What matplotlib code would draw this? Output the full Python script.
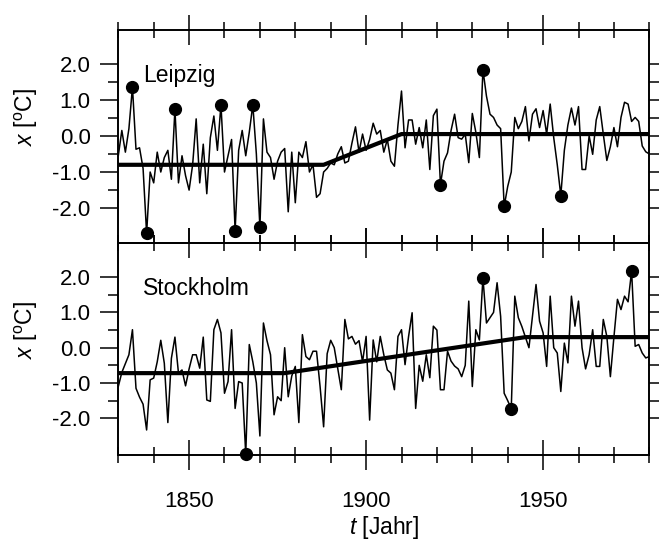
import matplotlib.pyplot as plt
import numpy as np
from matplotlib.ticker import FixedLocator, MultipleLocator

plt.rcParams['font.family'] = ['Liberation Sans', 'DejaVu Sans']
plt.rcParams['mathtext.fontset'] = 'custom'
plt.rcParams['mathtext.rm'] = 'Liberation Sans'
plt.rcParams['mathtext.it'] = 'Liberation Sans:italic'

years = np.arange(1830, 1981)

# annual temperature anomalies
leipzig = [
    -0.55, 0.15, -0.45, 0.2, 1.35, -0.37, -0.33, -0.9, -2.70, -1.0,
    -1.3, -0.45, -1.0, -0.6, -0.4, -1.2, 0.74, -1.3, -0.55, -1.1,
    -1.5, -0.8, 0.47, -1.3, -0.23, -1.6, -0.05, 0.55, -0.4, 0.86,
    -1.0, -0.55, -0.1, -2.63, -0.4, 0.15, -0.55, 0.1, 0.86, -0.5,
    -2.53, 0.47, -0.45, -0.6, -1.2, -0.7, -0.45, -0.35, -2.1, -0.45,
    -1.85, -0.45, -0.6, -0.16, -1.0, -0.8, -1.7, -1.6, -1.0, -0.9,
    -0.75, -0.8, -0.5, -0.3, -0.75, -0.7, -0.2, 0.25, -0.45, 0.05,
    -0.4, -0.1, 0.35, 0.05, 0.15, -0.45, -0.1, -0.7, -0.84, 0.3,
    1.24, -0.33, 0.44, 0.44, -0.23, 0.23, -0.33, 0.44, -0.93, 0.56,
    0.74, -1.35, -0.7, -0.47, 0.15, 0.6, -0.05, -0.09, 0.05, -0.74,
    0.62, 0.1, -0.6, 1.83, 1.1, 0.6, 0.51, 0.3, 0.2, -1.95,
    -1.4, -1.0, 0.51, 0.2, 0.4, 0.81, -0.14, 0.6, 0.75, 0.23,
    0.7, 0.05, 0.88, -0.05, -0.8, -1.65, -0.4, 0.3, 0.77, 0.3,
    0.81, -0.93, -0.93, 0.0, -0.51, 0.44, 0.81, 0.05, -0.68, -0.3,
    0.23, -0.3, 0.51, 0.93, 0.88, 0.4, 0.51, 0.4, -0.28, -0.44,
    -0.5,
]
stockholm = [
    -1.1, -0.7, -0.45, -0.2, 0.51, -1.15, -1.4, -1.6, -2.33, -0.91,
    -0.86, -0.4, 0.21, -0.44, -2.12, -0.3, 0.3, -0.72, -0.63, -1.08,
    -0.6, -0.2, -0.2, -0.58, 0.3, -1.48, -1.52, 0.51, 0.8, 0.42,
    -1.29, -0.96, 0.51, -1.72, -0.96, -1.0, -3.02, 0.09, -0.4, -1.0,
    -2.5, 0.7, 0.2, -0.2, -1.9, -1.39, -1.5, 0.0, -1.39, -0.8,
    -0.53, -2.12, 0.37, -0.25, -0.34, -0.1, -0.1, -1.1, -2.24, -0.17,
    0.21, 0.0, -0.6, -1.19, 0.8, 0.25, 0.32, 0.1, 0.2, -0.4,
    0.32, -2.05, 0.22, -0.4, 0.32, -0.2, -0.63, -0.72, -1.19, 0.32,
    0.51, -0.48, 0.32, 0.99, -1.72, -0.5, -0.95, -0.2, -0.85, 0.61,
    0.5, -1.19, -1.19, -0.1, -0.38, -0.52, -0.6, -0.82, -0.5, 1.32,
    -1.1, 0.51, 0.22, 1.98, 0.7, 0.85, 1.0, 1.84, 0.89, -1.29,
    -1.5, -1.73, 1.46, 0.85, 0.6, 0.3, 0.0, 0.9, 1.79, 0.75,
    0.42, -0.53, 1.46, 0.0, -0.15, -1.24, 0.13, -0.43, 1.46, 0.61,
    1.32, 0.0, -0.6, -0.2, 0.51, -0.53, -0.53, 0.8, 0.32, -0.82,
    0.3, 1.37, 1.08, 1.46, 1.3, 2.17, 0.04, 0.09, -0.15, -0.29,
    -0.25,
]

# piecewise linear trends
leipzig_trend_x = [1830, 1888, 1910, 1980]
leipzig_trend_y = [-0.8, -0.8, 0.05, 0.05]
stockholm_trend_x = [1830, 1877, 1945, 1980]
stockholm_trend_y = [-0.72, -0.72, 0.3, 0.3]

# marked extreme years
leipzig_extremes = [1834, 1838, 1846, 1859, 1863, 1868, 1870, 1921, 1933, 1939, 1955]
stockholm_extremes = [1866, 1933, 1941, 1975]

panels = [
    ('Leipzig', leipzig, leipzig_trend_x, leipzig_trend_y, leipzig_extremes, (-2.95, 2.93)),
    ('Stockholm', stockholm, stockholm_trend_x, stockholm_trend_y, stockholm_extremes, (-3.04, 2.98)),
]

fig, axes = plt.subplots(2, 1, sharex=True, figsize=(6.59, 5.43), dpi=100)
plt.subplots_adjust(left=0.1795, right=0.9853, top=0.9448, bottom=0.162, hspace=0)

for ax, (name, vals, tx, ty, ext, ylim) in zip(axes, panels):
    vals = np.array(vals)
    ax.plot(years, vals, color='black', lw=1.1)
    ax.plot(tx, ty, color='black', lw=3.0, solid_capstyle='butt')
    idx = [list(years).index(y) for y in ext]
    ax.plot(years[idx], vals[idx], 'o', color='black', ms=8.5, clip_on=False, zorder=5)

    ax.set_xlim(1830, 1980)
    ax.set_ylim(*ylim)
    ax.text(0.0465, 1.5, name, transform=ax.get_yaxis_transform(), fontsize=16.5,
            ha='left', va='baseline')

    for s in ax.spines.values():
        s.set_linewidth(1.2)

    ax.xaxis.set_major_locator(FixedLocator([1850, 1900, 1950]))
    ax.xaxis.set_minor_locator(MultipleLocator(10))
    ax.tick_params(axis='x', which='major', direction='inout', length=22, width=1.1,
                   top=True, bottom=True, labelsize=16, pad=15)
    ax.tick_params(axis='x', which='minor', direction='inout', length=12, width=1.1,
                   top=True, bottom=True)

    ax.yaxis.set_major_locator(FixedLocator([-2, -1, 0, 1, 2]))
    ax.yaxis.set_minor_locator(FixedLocator([-1.5, -0.5, 0.5, 1.5]))
    ax.set_yticklabels(['-2.0', '-1.0', '0.0', '1.0', '2.0'])
    ax.tick_params(axis='y', which='major', direction='out', length=13, width=1.1,
                   left=True, right=False, labelsize=16, pad=7)
    ax.tick_params(axis='y', which='minor', direction='out', length=7, width=1.1,
                   left=True, right=False)

    # right side ticks are all short
    axr = ax.twinx()
    axr.set_ylim(*ylim)
    axr.set_yticks([-2, -1.5, -1, -0.5, 0, 0.5, 1, 1.5, 2])
    axr.tick_params(axis='y', direction='out', length=7, width=1.1, labelright=False)
    for s in axr.spines.values():
        s.set_linewidth(1.2)

    ax.set_ylabel(r'$x$ [$^{\mathrm{o}}$C]', fontsize=16.5)
    ax.yaxis.set_label_coords(-0.147, 0.59)

axes[0].tick_params(axis='x', labelbottom=False)
axes[1].set_xlabel(r'$t$ [Jahr]', fontsize=16.5, labelpad=1)

plt.savefig('out.png', dpi=100)
